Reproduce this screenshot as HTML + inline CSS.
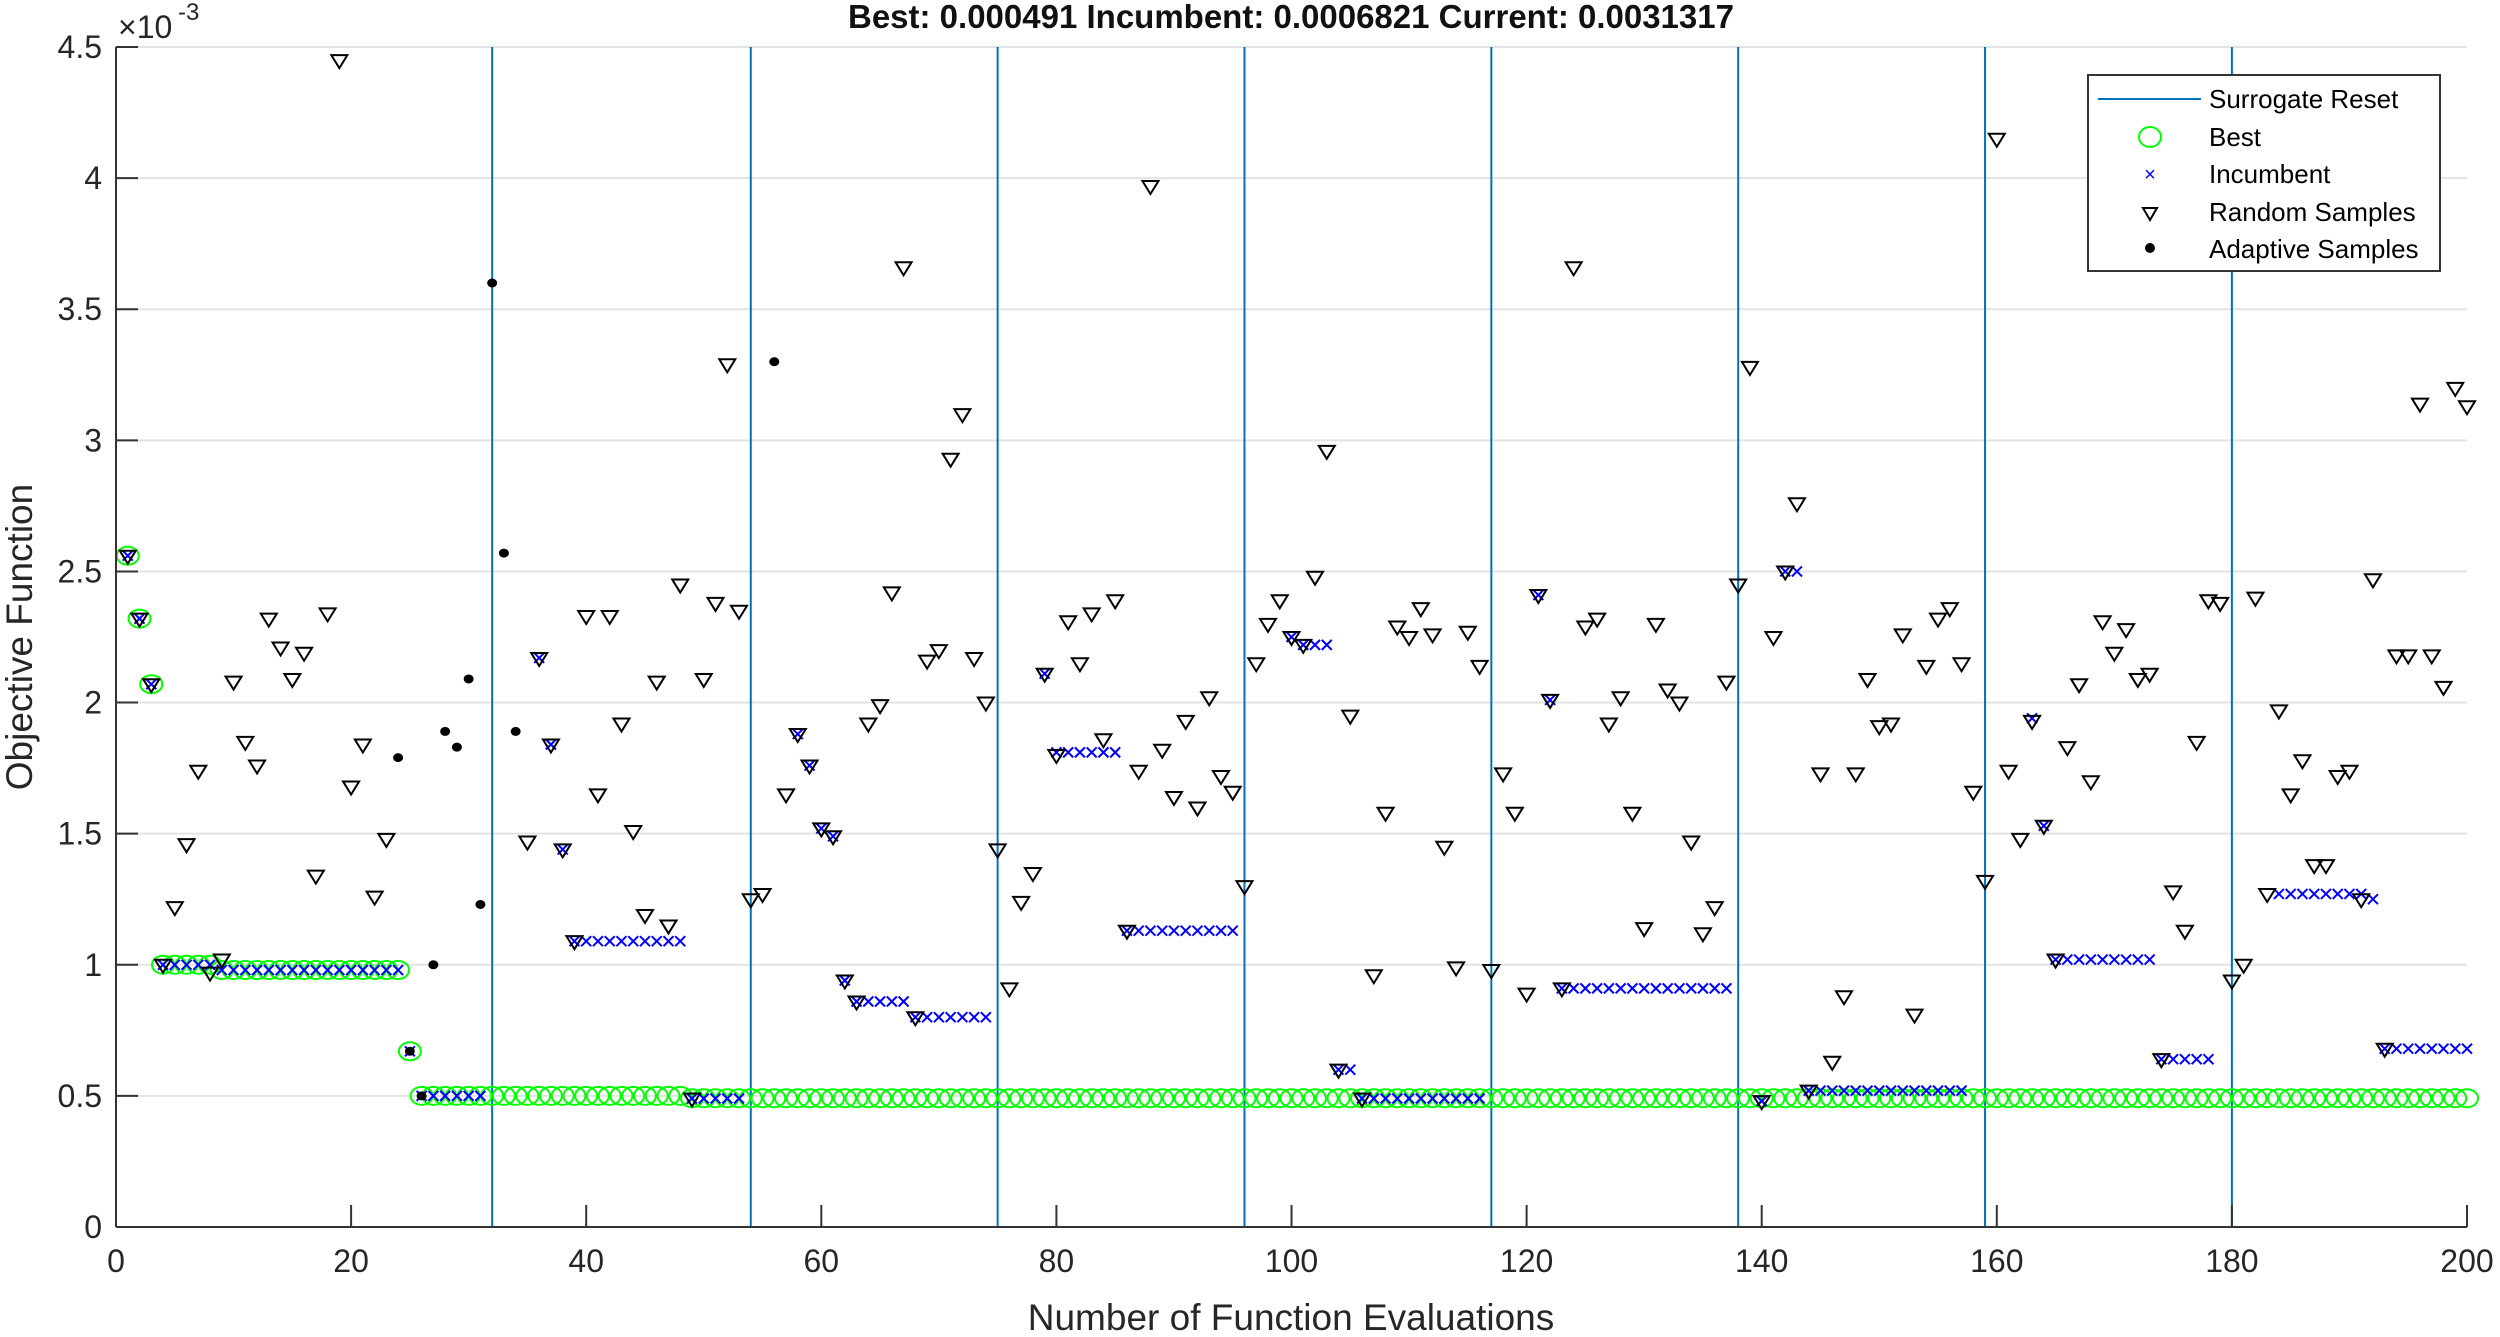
<!DOCTYPE html>
<html><head><meta charset="utf-8">
<style>
html,body{margin:0;padding:0;background:#fff;}
svg{display:block;font-family:"Liberation Sans",Arial,sans-serif;}
</style></head>
<body>
<svg id="s" width="2500" height="1337" viewBox="0 0 2500 1337" xmlns="http://www.w3.org/2000/svg">
<rect width="2500" height="1337" fill="#fff"/>
<g id="grid"></g>
<g id="vl"></g>
<g id="best"></g>
<g id="inc"></g>
<g id="rnd"></g>
<g id="ada"></g>
<g id="axes"></g>
<text x="1291" y="28" text-anchor="middle" font-size="33" font-weight="bold" fill="#111">Best: 0.000491 Incumbent: 0.0006821 Current: 0.0031317</text>
<text x="1291" y="1330" text-anchor="middle" font-size="37" fill="#262626">Number of Function Evaluations</text>
<text transform="translate(32,637) rotate(-90)" text-anchor="middle" font-size="37" fill="#262626">Objective Function</text>
<text x="118" y="38" font-size="32" fill="#262626">×10</text>
<text x="178" y="20" font-size="24" fill="#262626">-3</text>
<g>
<rect x="2088" y="75" width="352" height="196" fill="#fff" stroke="#333" stroke-width="2"/>
<line x1="2098" y1="99" x2="2201" y2="99" stroke="#0072BD" stroke-width="2"/>
<ellipse cx="2150" cy="137" rx="11" ry="10" fill="none" stroke="#00ff00" stroke-width="2"/>
<text x="2150" y="181" text-anchor="middle" font-size="20" fill="#0000ff">×</text>
<path d="M2143,208 L2157,208 L2150,220 Z" fill="none" stroke="#000" stroke-width="2"/>
<circle cx="2150" cy="248" r="5" fill="#000"/>
<g font-size="26" fill="#000">
<text x="2209" y="108">Surrogate Reset</text>
<text x="2209" y="146">Best</text>
<text x="2209" y="183">Incumbent</text>
<text x="2209" y="221">Random Samples</text>
<text x="2209" y="258">Adaptive Samples</text>
</g>
</g>
</svg>
<script>
var NS="http://www.w3.org/2000/svg";
var X0=116,X1=2467,Y0=1227,YT=47;
function px(i){return X0+(X1-X0)*i/200;}
function py(v){return Y0-(Y0-YT)*v/4.5;}
function el(p,t,a){var e=document.createElementNS(NS,t);for(var k in a)e.setAttribute(k,a[k]);document.getElementById(p).appendChild(e);return e;}
for(var k=0;k<=9;k++){var v=k*0.5,y=py(v);
 if(k>0) el('grid','line',{x1:X0,y1:y,x2:X1,y2:y,stroke:'#e3e3e3','stroke-width':2});
 el('axes','line',{x1:X0,y1:y,x2:X0+22,y2:y,stroke:'#333','stroke-width':2});
 var t=el('axes','text',{x:X0-14,y:y+11,'text-anchor':'end','font-size':32,fill:'#262626'});t.textContent=(k%2==0?(v+''):v.toFixed(1));}
for(var k=0;k<=10;k++){var x=px(k*20);
 el('axes','line',{x1:x,y1:Y0,x2:x,y2:Y0-22,stroke:'#333','stroke-width':2});
 var t=el('axes','text',{x:x,y:Y0+45,'text-anchor':'middle','font-size':32,fill:'#262626'});t.textContent=k*20;}
el('axes','line',{x1:X0,y1:YT,x2:X0,y2:Y0,stroke:'#333','stroke-width':2});
el('axes','line',{x1:X0,y1:Y0,x2:X1,y2:Y0,stroke:'#333','stroke-width':2});
[32,54,75,96,117,138,159,180].forEach(function(i){el('vl','line',{x1:px(i),y1:YT,x2:px(i),y2:Y0,stroke:'#0072BD','stroke-width':2});});
var best=[];
for(var i=1;i<=200;i++){var v;
 if(i==1)v=2.56;else if(i==2)v=2.32;else if(i==3)v=2.07;else if(i<=8)v=1.0;else if(i<=24)v=0.98;else if(i==25)v=0.67;else if(i<=48)v=0.5;else v=0.491;
 best.push([i,v]);}
best.forEach(function(p){el('best','ellipse',{cx:px(p[0]),cy:py(p[1]),rx:11,ry:9,fill:'none',stroke:'#00ff00','stroke-width':2});});
var inc=[[1,2.56],[2,2.32],[3,2.07]];
function seg(a,b,v){for(var i=a;i<=b;i++)inc.push([i,v]);}
seg(4,8,1.0);seg(9,24,0.98);seg(25,25,0.67);seg(26,31,0.5);
inc.push([36,2.17],[37,1.84],[38,1.44]);seg(39,48,1.09);seg(49,53,0.49);
inc.push([58,1.88],[59,1.76],[60,1.52],[61,1.49],[62,0.94]);seg(63,67,0.86);seg(68,74,0.8);
inc.push([79,2.11]);seg(80,85,1.81);seg(86,95,1.13);
inc.push([100,2.25]);seg(101,103,2.22);seg(104,105,0.6);seg(106,116,0.49);
inc.push([121,2.41],[122,2.01]);seg(123,137,0.91);inc.push([140,0.48]);seg(142,143,2.5);seg(144,157,0.52);
inc.push([163,1.94],[164,1.53]);seg(165,173,1.02);seg(174,178,0.64);seg(184,191,1.27);inc.push([192,1.25]);seg(193,200,0.68);
inc.forEach(function(p){var x=px(p[0]),y=py(p[1]);
 el('inc','path',{d:'M'+(x-5)+','+(y-5)+'L'+(x+5)+','+(y+5)+'M'+(x-5)+','+(y+5)+'L'+(x+5)+','+(y-5),stroke:'#0000ff','stroke-width':2,fill:'none'});});
var R={1:2.56,2:2.32,3:2.07,4:1.0,5:1.22,6:1.46,7:1.74,8:0.97,9:1.02,10:2.08,11:1.85,12:1.76,13:2.32,14:2.21,15:2.09,16:2.19,17:1.34,18:2.34,19:4.45,20:1.68,21:1.84,22:1.26,23:1.48,
35:1.47,36:2.17,37:1.84,38:1.44,39:1.09,40:2.33,41:1.65,42:2.33,43:1.92,44:1.51,45:1.19,46:2.08,47:1.15,48:2.45,49:0.49,50:2.09,51:2.38,52:3.29,53:2.35,54:1.25,55:1.27,57:1.65,58:1.88,59:1.76,60:1.52,61:1.49,62:0.94,63:0.86,64:1.92,65:1.99,66:2.42,67:3.66,68:0.8,69:2.16,70:2.2,71:2.93,72:3.1,73:2.17,74:2.0,75:1.44,76:0.91,77:1.24,78:1.35,79:2.11,80:1.8,81:2.31,82:2.15,83:2.34,84:1.86,85:2.39,86:1.13,87:1.74,88:3.97,89:1.82,90:1.64,91:1.93,92:1.6,93:2.02,94:1.72,95:1.66,96:1.3,97:2.15,98:2.3,99:2.39,100:2.25,101:2.22,102:2.48,103:2.96,104:0.6,105:1.95,106:0.49,107:0.96,108:1.58,109:2.29,110:2.25,111:2.36,112:2.26,113:1.45,114:0.99,115:2.27,116:2.14,117:0.98,118:1.73,119:1.58,120:0.89,121:2.41,122:2.01,123:0.91,124:3.66,125:2.29,126:2.32,127:1.92,128:2.02,129:1.58,130:1.14,131:2.3,132:2.05,133:2.0,134:1.47,135:1.12,136:1.22,137:2.08,138:2.45,139:3.28,140:0.48,141:2.25,142:2.5,143:2.76,144:0.52,145:1.73,146:0.63,147:0.88,148:1.73,149:2.09,150:1.91,151:1.92,152:2.26,153:0.81,154:2.14,155:2.32,156:2.36,157:2.15,158:1.66,159:1.32,160:4.15,161:1.74,162:1.48,163:1.93,164:1.53,165:1.02,166:1.83,167:2.07,168:1.7,169:2.31,170:2.19,171:2.28,172:2.09,173:2.11,174:0.64,175:1.28,176:1.13,177:1.85,178:2.39,179:2.38,180:0.94,181:1.0,182:2.4,183:1.27,184:1.97,185:1.65,186:1.78,187:1.38,188:1.38,189:1.72,190:1.74,191:1.25,192:2.47,193:0.68,194:2.18,195:2.18,196:3.14,197:2.18,198:2.06,199:3.2,200:3.13};
for(var i in R){var x=px(+i),y=py(R[i]);
 el('rnd','path',{d:'M'+(x-8)+','+(y-5)+'L'+(x+8)+','+(y-5)+'L'+x+','+(y+8)+'Z',fill:'none',stroke:'#000','stroke-width':2});}
[[24,1.79],[25,0.67],[26,0.5],[27,1.0],[28,1.89],[29,1.83],[30,2.09],[31,1.23],[32,3.6],[33,2.57],[34,1.89],[56,3.3]].forEach(function(p){
 el('ada','ellipse',{cx:px(p[0]),cy:py(p[1]),rx:5,ry:4.5,fill:'#000'});});
</script>
</body></html>
